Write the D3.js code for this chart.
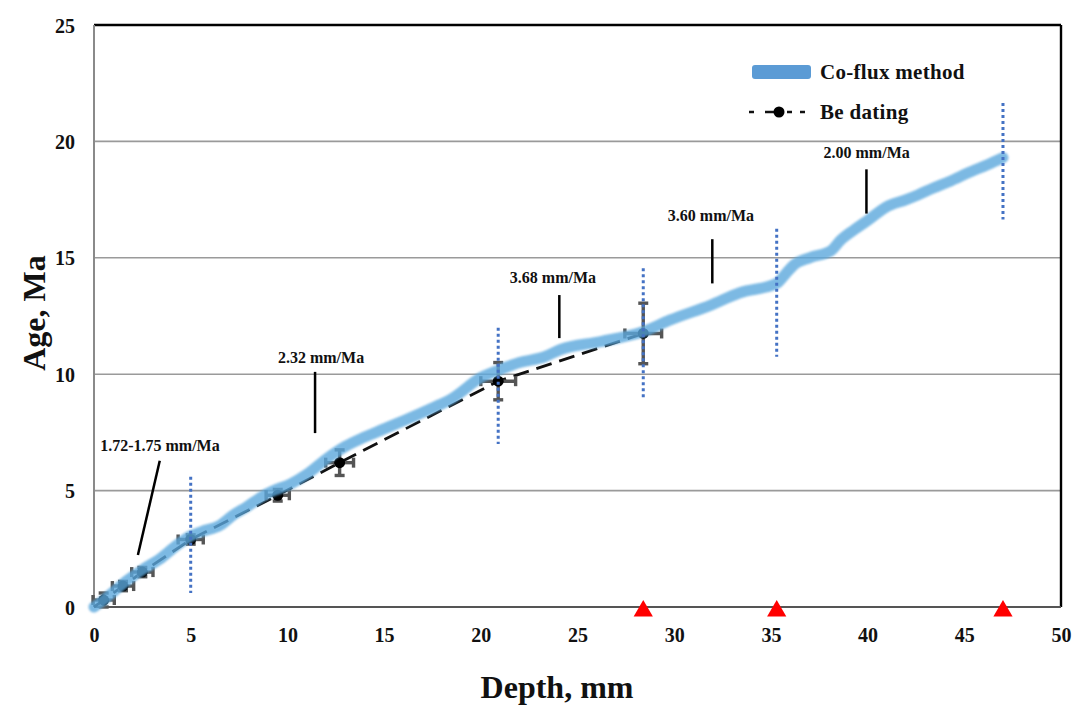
<!DOCTYPE html>
<html>
<head>
<meta charset="utf-8">
<script src="https://cdn.jsdelivr.net/npm/d3@7"></script>
<style>
  html, body { margin: 0; padding: 0; background: #fff; }
  svg { display: block; font-family: "Liberation Serif", "Times New Roman", serif; font-weight: bold; }
</style>
</head>
<body>
<svg id="chart" width="1073" height="707"></svg>
<script>
// ---- data ----
const xTicks = [0, 5, 10, 15, 20, 25, 30, 35, 40, 45, 50];
const yTicks = [0, 5, 10, 15, 20, 25];

const coFluxDepth = [0, 0.5, 1, 1.7, 2.5, 3.4, 4.2, 5, 5.6, 6.5, 7.2, 7.9, 8.7, 9.3, 10.2, 11, 12, 13, 14, 15, 16, 17.5, 18.5, 20, 21, 22, 23.3, 24.1, 26.2, 28.4, 29.8, 31.9, 33.4, 35.3, 35.8, 36.2, 37, 38.1, 38.6, 39.3, 40, 41, 42, 42.6, 43.4, 44.3, 45.2, 46.2, 47];
const coFluxAge   = [0, 0.3, 0.65, 1.13, 1.6, 2.06, 2.6, 3.05, 3.25, 3.5, 3.95, 4.3, 4.75, 5.0, 5.3, 5.7, 6.35, 6.9, 7.3, 7.65, 8.0, 8.55, 8.95, 9.85, 10.2, 10.5, 10.75, 11.05, 11.4, 11.83, 12.33, 12.97, 13.5, 13.9, 14.35, 14.7, 15.0, 15.3, 15.75, 16.2, 16.6, 17.2, 17.5, 17.7, 18.0, 18.3, 18.65, 19.0, 19.3];

const beDepth = [0.5, 1.5, 2.5, 5.0, 9.5, 12.7, 20.9, 28.4];
const beAge   = [0.3, 0.9, 1.5, 2.9, 4.8, 6.2, 9.7, 11.75];
const beDepthErr = [0.55, 0.55, 0.55, 0.65, 0.6, 0.72, 0.9, 0.95];
const beAgeErr   = [0.3, 0.2, 0.2, 0.2, 0.25, 0.55, 0.8, 1.3];

const boundaryDepth = [5, 20.9, 28.4, 35.3, 47];
const boundaryLow   = [0.6, 7.0, 8.95, 10.75, 16.65];
const boundaryHigh  = [5.6, 12.0, 14.55, 16.25, 21.65];

const rateLabels = ["1.72-1.75 mm/Ma", "2.32 mm/Ma", "3.68 mm/Ma", "3.60 mm/Ma", "2.00 mm/Ma"];
const rateLabelDepth = [3.41, 11.74, 23.73, 31.9, 39.95];
const rateLabelAge   = [6.72, 10.49, 13.92, 16.58, 19.29];
const leaderDepth1 = [3.4, 11.43, 24.06, 31.97, 39.94];
const leaderAge1   = [6.28, 10.1, 13.4, 15.8, 18.8];
const leaderDepth2 = [2.27, 11.43, 24.06, 31.97, 39.94];
const leaderAge2   = [2.23, 7.47, 11.55, 13.9, 16.9];

const markerDepth = [28.4, 35.3, 47.0];

// ---- layout ----
const svg = d3.select("#chart");
const x = d3.scaleLinear().domain([0, 50]).range([94, 1061]);
const y = d3.scaleLinear().domain([0, 25]).range([607, 25]);

const defs = svg.append("defs");
defs.append("filter").attr("id", "soft")
  .attr("x", "-5%").attr("y", "-5%").attr("width", "110%").attr("height", "110%")
  .append("feGaussianBlur").attr("stdDeviation", 1.2);

// gridlines
svg.append("g").selectAll("line")
  .data(yTicks.filter(t => t > 0 && t < 25))
  .join("line")
  .attr("x1", x(0)).attr("x2", x(50))
  .attr("y1", d => y(d)).attr("y2", d => y(d))
  .attr("stroke", "#9a9a9a").attr("stroke-width", 1.6);

// frame
svg.append("line").attr("x1", x(0)).attr("x2", x(50)).attr("y1", y(25)).attr("y2", y(25))
  .attr("stroke", "#000").attr("stroke-width", 2.6);
svg.append("line").attr("x1", x(50)).attr("x2", x(50)).attr("y1", y(25)).attr("y2", y(0))
  .attr("stroke", "#000").attr("stroke-width", 2.4);
svg.append("line").attr("x1", x(0)).attr("x2", x(0)).attr("y1", y(25)).attr("y2", y(0))
  .attr("stroke", "#8a8a8a").attr("stroke-width", 2);
svg.append("line").attr("x1", x(0)).attr("x2", x(50)).attr("y1", y(0)).attr("y2", y(0))
  .attr("stroke", "#555").attr("stroke-width", 2.2);

// axes (labels only)
const xAxis = d3.axisBottom(x).tickValues(xTicks).tickSize(0).tickPadding(0);
const gx = svg.append("g").attr("transform", `translate(0,${y(0)})`).call(xAxis);
gx.select(".domain").remove();
gx.selectAll("text").attr("font-size", 20).attr("font-weight", "bold")
  .attr("font-family", "Liberation Serif, serif").attr("fill", "#111")
  .attr("y", 35).attr("dy", 0);

const yAxis = d3.axisLeft(y).tickValues(yTicks).tickSize(0).tickPadding(0);
const gy = svg.append("g").attr("transform", `translate(75,0)`).call(yAxis);
gy.select(".domain").remove();
gy.selectAll("text").attr("font-size", 20).attr("font-weight", "bold")
  .attr("font-family", "Liberation Serif, serif").attr("fill", "#111")
  .attr("x", 0).attr("dy", "0.35em");

// axis titles
svg.append("text").attr("x", 557).attr("y", 698).attr("text-anchor", "middle")
  .attr("font-size", 32).attr("fill", "#111").text("Depth, mm");
svg.append("text").attr("transform", "translate(45,313) rotate(-90)").attr("text-anchor", "middle")
  .attr("font-size", 32).attr("fill", "#111").text("Age, Ma");

// Be dating dashed line
const beData = beDepth.map((d, i) => ({d, a: beAge[i], ex: beDepthErr[i], ey: beAgeErr[i]}));
const line = d3.line().x(p => x(p.d)).y(p => y(p.a));
svg.append("path").datum([{d: 0, a: 0}].concat(beData))
  .attr("d", line).attr("fill", "none").attr("stroke", "#111")
  .attr("stroke-width", 2.8).attr("stroke-dasharray", "16,8");

// error bars
const eb = svg.append("g").attr("stroke", "#555").attr("stroke-width", 3.4).attr("fill", "none");
const cap = 5;
beData.forEach(p => {
  const cx = x(p.d), cy = y(p.a);
  const x1 = x(p.d - p.ex), x2 = x(p.d + p.ex);
  const y1 = y(p.a + p.ey), y2 = y(p.a - p.ey);
  eb.append("line").attr("x1", x1).attr("x2", x2).attr("y1", cy).attr("y2", cy);
  eb.append("line").attr("x1", x1).attr("x2", x1).attr("y1", cy - cap).attr("y2", cy + cap);
  eb.append("line").attr("x1", x2).attr("x2", x2).attr("y1", cy - cap).attr("y2", cy + cap);
  eb.append("line").attr("x1", cx).attr("x2", cx).attr("y1", y1).attr("y2", y2);
  eb.append("line").attr("x1", cx - cap).attr("x2", cx + cap).attr("y1", y1).attr("y2", y1);
  eb.append("line").attr("x1", cx - cap).attr("x2", cx + cap).attr("y1", y2).attr("y2", y2);
});

// points
svg.append("g").selectAll("circle").data(beData).join("circle")
  .attr("cx", p => x(p.d)).attr("cy", p => y(p.a)).attr("r", 5.5).attr("fill", "#000");

// Co-flux line
const cf = coFluxDepth.map((d, i) => ({d, a: coFluxAge[i]}));
svg.append("path").datum(cf)
  .attr("d", d3.line().x(p => x(p.d)).y(p => y(p.a)).curve(d3.curveMonotoneX))
  .attr("fill", "none").attr("stroke", "#5ca8dd").attr("stroke-width", 11)
  .attr("stroke-linecap", "round").attr("stroke-linejoin", "round")
  .attr("opacity", 0.8).attr("filter", "url(#soft)");

// boundary dotted lines
svg.append("g").selectAll("line").data(boundaryDepth).join("line")
  .attr("x1", d => x(d)).attr("x2", d => x(d))
  .attr("y1", (d, i) => y(boundaryHigh[i])).attr("y2", (d, i) => y(boundaryLow[i]))
  .attr("stroke", "#4472c4").attr("stroke-width", 3).attr("stroke-dasharray", "3,3");

// rate annotations
const ann = svg.append("g");
rateLabels.forEach((t, i) => {
  ann.append("line")
    .attr("x1", x(leaderDepth1[i])).attr("y1", y(leaderAge1[i]))
    .attr("x2", x(leaderDepth2[i])).attr("y2", y(leaderAge2[i]))
    .attr("stroke", "#000").attr("stroke-width", 2.5);
  ann.append("text").attr("x", x(rateLabelDepth[i])).attr("y", y(rateLabelAge[i]))
    .attr("text-anchor", "middle").attr("font-size", 16).attr("fill", "#111").text(t);
});

// red triangles
svg.append("g").selectAll("path").data(markerDepth).join("path")
  .attr("d", d3.symbol().type(d3.symbolTriangle).size(160))
  .attr("transform", d => `translate(${x(d)},${y(0) + 4})`)
  .attr("fill", "#ff0000");

// legend
const lg = svg.append("g");
lg.append("rect").attr("x", 752).attr("y", 65).attr("width", 59).attr("height", 14)
  .attr("rx", 3).attr("fill", "#5b9bd5");
lg.append("text").attr("x", 820).attr("y", 79).attr("font-size", 21).attr("fill", "#111")
  .attr("letter-spacing", 0.3).text("Co-flux method");
lg.append("line").attr("x1", 749).attr("x2", 812).attr("y1", 112).attr("y2", 112)
  .attr("stroke", "#111").attr("stroke-width", 2.6).attr("stroke-dasharray", "5,11,14,8,5,8");
lg.append("circle").attr("cx", 779).attr("cy", 112).attr("r", 5.5).attr("fill", "#000");
lg.append("text").attr("x", 820).attr("y", 119).attr("font-size", 21).attr("fill", "#111")
  .attr("letter-spacing", 0.3).text("Be dating");
</script>
</body>
</html>
